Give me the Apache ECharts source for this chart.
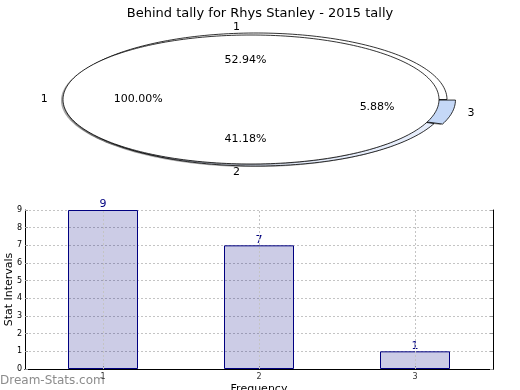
<!DOCTYPE html>
<html>
<head>
<meta charset="utf-8">
<script src="https://cdn.jsdelivr.net/npm/echarts@6/dist/echarts.min.js"></script>
<style>
html,body{margin:0;padding:0;background:#fff;}
#c{width:520px;height:390px;}
</style>
</head>
<body>
<div id="c"></div>
<script>
// ---- data ----
const titleText = 'Behind tally for Rhys Stanley - 2015 tally';
const categories = ['1', '2', '3'];
const counts = [9, 7, 1];
const innerCategories = ['1'];
const innerCounts = [1];
const yTicks = [0, 1, 2, 3, 4, 5, 6, 7, 8, 9];

// ---- styling ----
const FONT = 'DejaVu Sans';
const outerColors = ['#ffffff', '#e6edfb', '#c5d8f7'];
const innerColors = ['#ffffff'];
const outerExplode = [0, 0, 0.045];
const OUTER = {cx: 256, cy: 99.5, rx: 191, ry: 66.5};
const INNER = {cx: 251, cy: 99.5, rx: 188, ry: 64.5};

function sliceGeom(values, idx, geo, explode) {
  const total = values.reduce((a, b) => a + b, 0);
  let before = 0;
  for (let i = 0; i < idx; i++) before += values[i];
  const a0 = before / total * 360;
  const a1 = (before + values[idx]) / total * 360;
  const mid = (a0 + a1) / 2 * Math.PI / 180;
  const e = explode ? explode[idx] : 0;
  const cx = geo.cx + e * geo.rx * Math.cos(mid);
  const cy = geo.cy - e * geo.ry * Math.sin(mid);
  return {a0, a1, mid, cx, cy, frac: values[idx] / total};
}

function ellipsePts(cx, cy, rx, ry, a0, a1, full) {
  const pts = full ? [] : [[cx, cy]];
  const n = Math.max(4, Math.ceil(Math.abs(a1 - a0) / 1.5));
  for (let i = 0; i <= n; i++) {
    const a = (a0 + (a1 - a0) * i / n) * Math.PI / 180;
    pts.push([cx + rx * Math.cos(a), cy - ry * Math.sin(a)]);
  }
  return pts;
}

function pieRenderer(values, geo, colors, explode) {
  return function (params, api) {
    const idx = params.dataIndex;
    const g = sliceGeom(values, idx, geo, explode);
    const full = g.frac >= 0.9999;
    const pts = ellipsePts(g.cx, g.cy, geo.rx, geo.ry, g.a0, g.a1, full);
    const shadowPts = pts.map(p => [p[0] - 2, p[1] + 1]);
    return {
      type: 'group',
      children: [
        {type: 'polygon', shape: {points: shadowPts}, style: {fill: 'rgba(0,0,0,0.35)', stroke: null}, z2: 0},
        {type: 'polygon', shape: {points: pts}, style: {fill: colors[idx], stroke: '#000', lineWidth: 0.8}, z2: 1}
      ]
    };
  };
}

function labelRenderer(values, names, geo, explode) {
  return function (params, api) {
    const idx = params.dataIndex;
    const g = sliceGeom(values, idx, geo, explode);
    const c = Math.cos(g.mid), s = Math.sin(g.mid);
    return {
      type: 'group',
      children: [
        {type: 'text', x: g.cx + 1.1 * geo.rx * c, y: g.cy - 1.1 * geo.ry * s,
          style: {text: names[idx], fill: '#000', fontSize: 11, fontFamily: FONT, align: 'center', verticalAlign: 'middle'}},
        {type: 'text', x: g.cx + 0.6 * geo.rx * c, y: g.cy - 0.6 * geo.ry * s,
          style: {text: (g.frac * 100).toFixed(2) + '%', fill: '#000', fontSize: 11, fontFamily: FONT, align: 'center', verticalAlign: 'middle'}}
      ]
    };
  };
}

const chart = echarts.init(document.getElementById('c'), null, {renderer: 'canvas'});
chart.setOption({
  backgroundColor: '#ffffff',
  animation: false,
  textStyle: {fontFamily: FONT},
  title: {
    text: titleText, left: 'center', top: 2,
    textStyle: {fontFamily: FONT, fontSize: 13, fontWeight: 'normal', color: '#000'}
  },
  graphic: [{
    type: 'text', left: 0, top: 375,
    style: {text: 'Dream-Stats.com', fill: '#8c8c8c', fontSize: 12, fontFamily: FONT}
  }],
  grid: {left: 25, right: 27, top: 210, bottom: 21, containLabel: false, outerBoundsMode: 'none'},
  xAxis: [{
    type: 'category', data: categories, position: 'bottom',
    axisLine: {show: true, lineStyle: {color: '#000', width: 1}},
    axisTick: {show: true, inside: true, alignWithLabel: true, length: 3, lineStyle: {color: '#999'}},
    axisLabel: {fontSize: 8, color: '#333', margin: 4, fontFamily: FONT},
    splitLine: {show: false},
    name: 'Frequency', nameLocation: 'middle', nameGap: 15, nameMoveOverlap: false,
    nameTextStyle: {fontSize: 11, color: '#000', fontFamily: FONT}
  }, {
    type: 'category', data: categories, position: 'top',
    axisLine: {show: true, lineStyle: {color: '#000', width: 1}},
    axisTick: {show: false}, axisLabel: {show: false}, splitLine: {show: false}
  }],
  yAxis: [{
    type: 'value', min: 0, max: 9, interval: 1, position: 'left',
    axisLine: {show: true, lineStyle: {color: '#000', width: 1}},
    axisTick: {show: true, inside: true, length: 3, lineStyle: {color: '#999'}},
    axisLabel: {fontSize: 8, color: '#000', margin: 3, fontFamily: FONT,
      formatter: v => yTicks.indexOf(v) >= 0 ? String(v) : ''},
    splitLine: {show: true, lineStyle: {color: '#c4c4c4', type: [2, 2], width: 1}},
    name: 'Stat Intervals', nameLocation: 'middle', nameGap: 10, nameMoveOverlap: false,
    nameTextStyle: {fontSize: 11, color: '#000', fontFamily: FONT}
  }, {
    type: 'value', min: 0, max: 9, interval: 1, position: 'right',
    axisLine: {show: true, lineStyle: {color: '#000', width: 1}},
    axisTick: {show: true, inside: true, length: 3, lineStyle: {color: '#999'}},
    axisLabel: {show: false}, splitLine: {show: false}
  }],
  series: [{
    type: 'bar', xAxisIndex: 0, yAxisIndex: 0, data: counts, barWidth: 70,
    itemStyle: {color: 'rgba(0,0,128,0.2)', borderColor: '#000080', borderWidth: 1},
    label: {show: true, position: 'top', distance: 0, color: '#000080', fontSize: 11, fontFamily: FONT},
    markLine: {
      silent: true, symbol: ['none', 'none'], label: {show: false},
      lineStyle: {color: '#c4c4c4', type: [2, 2], width: 1},
      data: categories.map(c => ({xAxis: c}))
    },
    z: 2
  }, {
    type: 'custom', coordinateSystem: 'none', data: counts,
    renderItem: pieRenderer(counts, OUTER, outerColors, outerExplode), z: 3, silent: true
  }, {
    type: 'custom', coordinateSystem: 'none', data: innerCounts,
    renderItem: pieRenderer(innerCounts, INNER, innerColors, null), z: 4, silent: true
  }, {
    type: 'custom', coordinateSystem: 'none', data: counts,
    renderItem: labelRenderer(counts, categories, OUTER, outerExplode), z: 5, silent: true
  }, {
    type: 'custom', coordinateSystem: 'none', data: innerCounts,
    renderItem: labelRenderer(innerCounts, innerCategories, INNER, null), z: 5, silent: true
  }]
});
</script>
</body>
</html>
